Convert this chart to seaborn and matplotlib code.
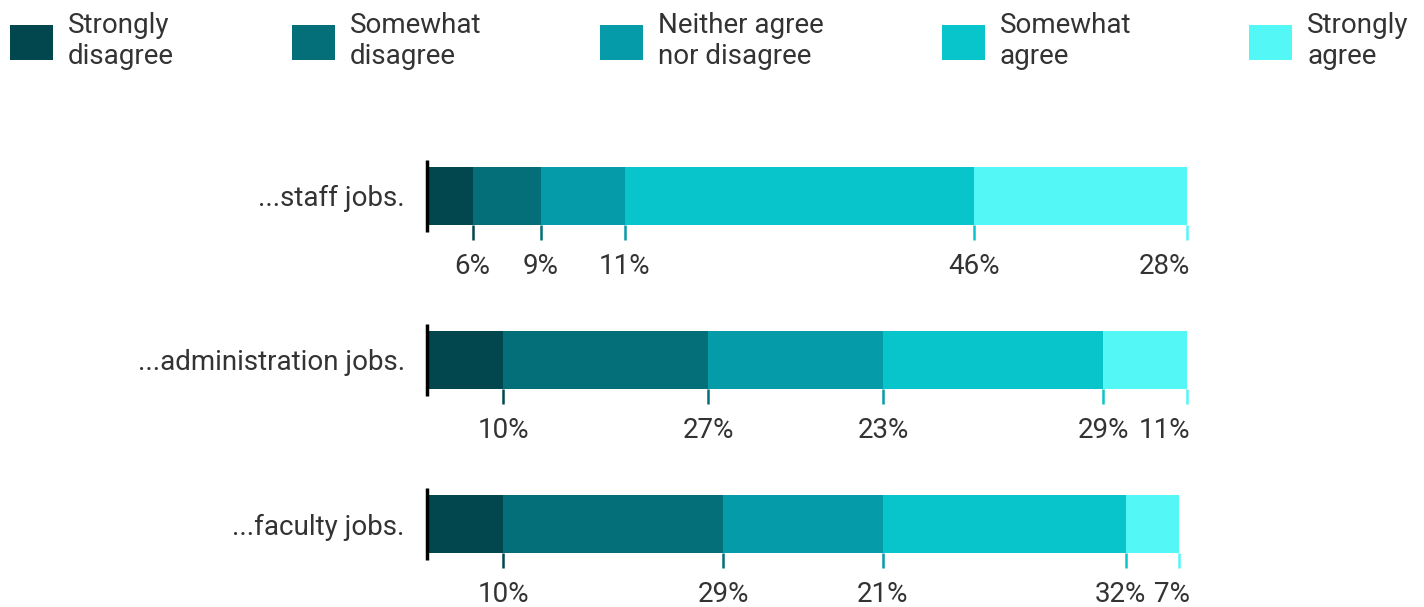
import numpy as np
import matplotlib
matplotlib.use('Agg')
import matplotlib.pyplot as plt
import seaborn as sns
from matplotlib.patches import Patch

# Data
questions = ['...staff jobs.', '...administration jobs.', '...faculty jobs.']
responses = ['Strongly\ndisagree', 'Somewhat\ndisagree', 'Neither agree\nnor disagree',
             'Somewhat\nagree', 'Strongly\nagree']
staff = [6, 9, 11, 46, 28]
administration = [10, 27, 23, 29, 11]
faculty = [10, 29, 21, 32, 7]
colors = ['#03474e', '#046f78', '#069ba8', '#08c5cb', '#52f7f6']

sns.set_theme(style='white')
plt.rcParams['font.family'] = ['Roboto', 'DejaVu Sans']
text_color = '#333333'

values = np.array([staff, administration, faculty])
cum = values.cumsum(axis=1)

fig = plt.figure(figsize=(14.24, 6.07), dpi=100)
ax = fig.add_axes([427 / 1424, 0, 760 / 1424, 457 / 607])

bar_h = 0.354
# stacked bars: draw cumulative totals from the widest layer down
for j in range(len(responses) - 1, -1, -1):
    sns.barplot(x=cum[:, j], y=questions, orient='h', color=colors[j],
                width=bar_h, saturation=1, linewidth=0, ax=ax)

ax.set_xlim(0, 100)
ax.set_ylim(2.506, -0.28)
for s in ax.spines.values():
    s.set_visible(False)
ax.set_xticks([])
ax.set_xlabel('')
ax.set_ylabel('')
ax.set_yticks(range(len(questions)))
ax.set_yticklabels(questions, fontsize=20, color=text_color)
ax.tick_params(axis='y', length=0, pad=16)

# baseline marker at zero and small ticks at each segment end
label_texts = []
for i in range(len(questions)):
    ax.vlines(0, i - 0.22, i + 0.22, color='black', lw=2.5, clip_on=False)
    row = []
    for j in range(len(responses)):
        ax.vlines(cum[i, j], i + bar_h / 2, i + 0.268, color=colors[j], lw=1.8, clip_on=False)
        last = j == len(responses) - 1
        t = ax.text(100.4 if last else cum[i, j], i + 0.478, f'{values[i, j]}%',
                    ha='right' if last else 'center', va='baseline',
                    fontsize=20, color=text_color, clip_on=False)
        row.append(t)
    label_texts.append(row)

# push labels left where they would collide with the one to their right
fig.canvas.draw()
renderer = fig.canvas.get_renderer()
gap = 8
for row in label_texts:
    right_limit = None
    for t in reversed(row):
        bb = t.get_window_extent(renderer)
        if right_limit is not None and bb.x1 > right_limit - gap:
            shift = bb.x1 - (right_limit - gap)
            x_disp = ax.transData.transform((t.get_position()[0], 0))[0] - shift
            t.set_x(ax.transData.inverted().transform((x_disp, 0))[0])
            bb = t.get_window_extent(renderer)
        right_limit = bb.x0

handles = [Patch(facecolor=c, edgecolor='none') for c in colors]
leg = fig.legend(handles=handles, labels=responses, ncol=5, loc='upper left',
                 bbox_to_anchor=(10 / 1424, 1 - 12 / 607), frameon=False, fontsize=20,
                 handlelength=1.55, handleheight=1.55, handletextpad=0.54,
                 columnspacing=4.25, borderaxespad=0, borderpad=0, labelspacing=0)
for t in leg.get_texts():
    t.set_color(text_color)

fig.savefig('out.png', dpi=100)
